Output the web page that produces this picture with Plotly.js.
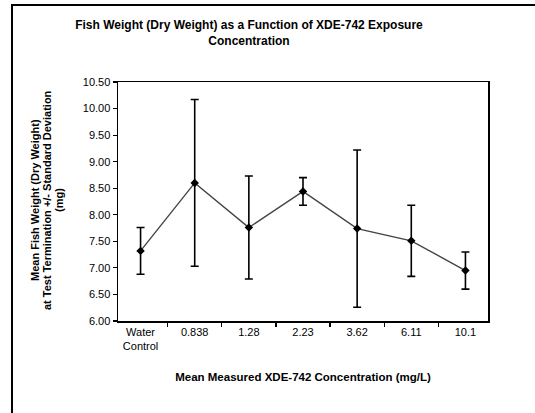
<!DOCTYPE html>
<html>
<head>
<meta charset="utf-8">
<script src="https://cdn.plot.ly/plotly-3.0.1.min.js"></script>
<style>html,body{margin:0;padding:0;background:#fff;}#chart{width:535px;height:413px;}</style>
</head>
<body>
<div id="chart"></div>
<script>
const categories = ["Water<br>Control", "0.838", "1.28", "2.23", "3.62", "6.11", "10.1"];
const meanWeight = [7.32, 8.60, 7.76, 8.44, 7.74, 7.51, 6.95];
const stdDev = [0.44, 1.57, 0.97, 0.26, 1.48, 0.67, 0.35];
const yTickVals = [6.0, 6.5, 7.0, 7.5, 8.0, 8.5, 9.0, 9.5, 10.0, 10.5];
const yTitleLines = ["Mean Fish Weight (Dry Weight)", "at Test Termination +/- Standard Deviation", "(mg)"];

const F = "Arial, 'Liberation Sans', sans-serif";
const L = 118, R = 47, T = 82, B = 92;
const W = 535 - L - R, H = 413 - T - B;
const px = x => (x - L) / W;
const py = y => 1 - (y - T) / H;

const trace = {
  type: "scatter",
  mode: "lines+markers",
  x: categories,
  y: meanWeight,
  line: {color: "#444", width: 1.4},
  marker: {symbol: "diamond", size: 6.5, color: "#000"},
  error_y: {type: "data", array: stdDev, visible: true, color: "#000", thickness: 1.6, width: 4},
  showlegend: false,
  hoverinfo: "skip"
};

const yTitleX = [35, 47, 59];
const annotations = yTitleLines.map((t, i) => ({
  text: "<b>" + t + "</b>",
  xref: "paper", yref: "paper",
  x: px(yTitleX[i]), y: py(200), xanchor: "center", yanchor: "middle",
  textangle: -90, showarrow: false,
  font: {family: F, size: 11, color: "#000"}
}));

const layout = {
  width: 535, height: 413,
  margin: {l: L, r: R, t: T, b: B},
  paper_bgcolor: "#fff", plot_bgcolor: "#fff",
  font: {family: F, color: "#000"},
  title: {
    text: "<b>Fish Weight (Dry Weight) as a Function of XDE-742 Exposure<br>Concentration</b>",
    font: {family: F, size: 12, color: "#000"},
    x: px(249), xanchor: "center", xref: "paper",
    y: 1 - 29 / 413, yanchor: "top"
  },
  xaxis: {
    type: "category",
    showgrid: false, zeroline: false,
    showline: true, linecolor: "#000", linewidth: 1.5, mirror: true,
    ticks: "outside", tickson: "boundaries", ticklen: 4, tickcolor: "#000", tickwidth: 1.2,
    tickfont: {family: F, size: 11, color: "#000"},
    title: {text: "<b>Mean Measured XDE-742 Concentration (mg/L)</b>", font: {family: F, size: 11.5, color: "#000"}, standoff: 22}
  },
  yaxis: {
    range: [6.0, 10.5],
    tickvals: yTickVals,
    tickformat: ".2f",
    showgrid: false, zeroline: false,
    showline: true, linecolor: "#000", linewidth: 1.5, mirror: true,
    ticks: "outside", ticklen: 4, tickcolor: "#000", tickwidth: 1.2,
    tickfont: {family: F, size: 11, color: "#000"}
  },
  annotations: annotations,
  shapes: [{
    type: "rect", xref: "paper", yref: "paper",
    x0: px(12), x1: px(560), y0: py(440), y1: py(5),
    line: {color: "#000", width: 2}
  }]
};

Plotly.newPlot("chart", [trace], layout, {staticPlot: true, displayModeBar: false});
</script>
</body>
</html>
